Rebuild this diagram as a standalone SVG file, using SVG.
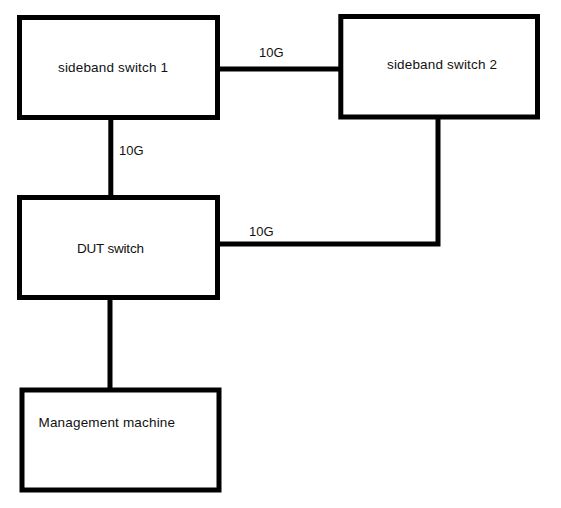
<svg xmlns="http://www.w3.org/2000/svg" width="561" height="508" viewBox="0 0 561 508">
<style>
.box{fill:#fff;stroke:#000;stroke-width:5}
.ln{fill:none;stroke:#000;stroke-width:5}
text{font-family:"Liberation Sans",Arial,sans-serif;font-size:13.5px;fill:#111}
.lbl{font-size:13px}
</style>
<rect width="561" height="508" fill="#fff"/>
<g id="connectors">
<line class="ln" x1="220" y1="69" x2="339" y2="69"/>
<line class="ln" x1="110.8" y1="120" x2="110.8" y2="195"/>
<polyline class="ln" points="220,244 438,244 438,119"/>
<line class="ln" x1="110" y1="300" x2="110" y2="388"/>
<text class="lbl" x="259" y="57">10G</text>
<text class="lbl" x="119" y="155">10G</text>
<text class="lbl" x="249" y="236">10G</text>
</g>
<g id="sideband1">
<rect class="box" x="19.5" y="17.5" width="198" height="100"/>
<text x="58" y="72" textLength="110">sideband switch 1</text>
</g>
<g id="sideband2">
<rect class="box" x="340.8" y="16.5" width="196.7" height="100.5"/>
<text x="387" y="69" textLength="110">sideband switch 2</text>
</g>
<g id="dut">
<rect class="box" x="19.5" y="197.5" width="198" height="100"/>
<text x="77" y="253" textLength="67">DUT switch</text>
</g>
<g id="mgmt">
<rect class="box" x="22" y="390" width="197" height="100"/>
<text x="38.5" y="427" textLength="136.5">Management machine</text>
</g>
</svg>
